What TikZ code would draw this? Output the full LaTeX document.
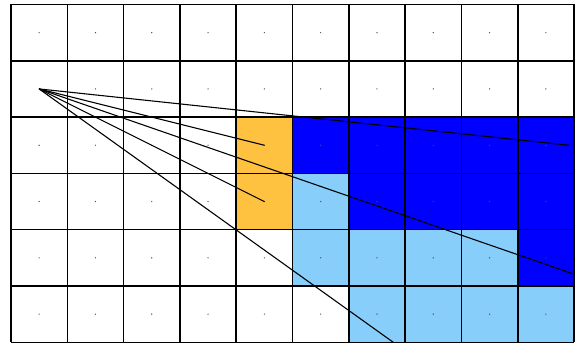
\documentclass[tikz,border=0pt]{standalone}
\begin{document}
\begin{tikzpicture}[x=1cm,y=-1cm,
  gridline/.style={line width=0.8pt,black},
  ray/.style={line width=0.55pt,black},
  cdot/.style={fill=black!70,draw=none}]
\definecolor{cellorange}{RGB}{255,193,64}
\definecolor{cellblue}{RGB}{0,0,255}
\definecolor{celllight}{RGB}{135,206,250}
\useasboundingbox (-0.1954,-0.0799) rectangle (10.142,6.066);
% fills
\foreach \c/\r in {4/2,4/3}
  \fill[cellorange] (\c,\r) rectangle ++(1,1);
\foreach \c/\r in {5/2,6/2,7/2,8/2,9/2,6/3,7/3,8/3,9/3,9/4}
  \fill[cellblue] (\c,\r) rectangle ++(1,1);
\foreach \c/\r in {5/3,5/4,6/4,7/4,8/4,6/5,7/5,8/5,9/5}
  \fill[celllight] (\c,\r) rectangle ++(1,1);
% grid
\draw[gridline] (0,0) grid (10,6);
% dots
\foreach \c in {0,...,9}
  \foreach \r in {0,...,5}
    \fill[cdot] (\c+0.5,\r+0.5) circle (0.35pt);
% rays
\coordinate (src) at (0.5,1.5);
\coordinate (e1) at (9.91,2.5);
\coordinate (e2) at (4.5,2.5);
\coordinate (e3) at (4.5,3.5);
\coordinate (e4) at (10,4.79);
\coordinate (e5) at (6.79,6);
\foreach \e in {e1,e2,e3,e4,e5}
  \draw[ray] (src) -- (\e);
\end{tikzpicture}
\end{document}
